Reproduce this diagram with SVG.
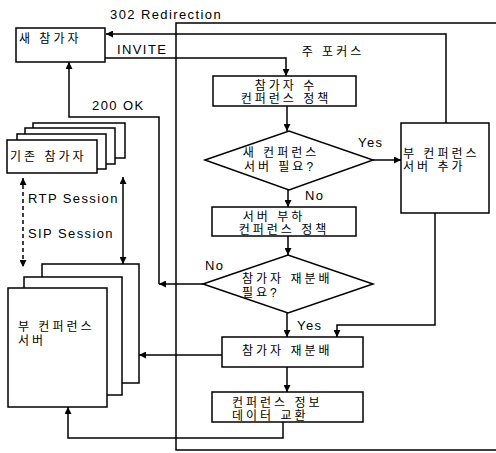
<svg xmlns="http://www.w3.org/2000/svg" width="496" height="453" viewBox="0 0 496 453">
<style>
.bx{fill:#fff;stroke:#000;stroke-width:1.5}
.ln{fill:none;stroke:#000;stroke-width:1.5}
.ko{font-family:"Liberation Sans","Noto Sans CJK KR",sans-serif;font-size:12px;letter-spacing:3px;fill:#000}
.la{font-family:"Liberation Sans",Arial,sans-serif;font-size:13px;letter-spacing:1.4px;fill:#000}
</style>
<defs>
<marker id="ah" viewBox="0 0 10 10" refX="10" refY="5" markerWidth="8" markerHeight="7" markerUnits="userSpaceOnUse" orient="auto-start-reverse">
<path d="M0,0 L10,5 L0,10 z" fill="#000"/>
</marker>
</defs>
<rect width="496" height="453" fill="#fff"/>

<g id="main-focus">
<path class="ln" d="M496,23 H176 V450 H496"/>
<text class="ko" x="333" y="56" text-anchor="middle">주 포커스</text>
</g>

<g id="new-participant">
<rect class="bx" x="16" y="28" width="89" height="34"/>
<text class="ko" x="19" y="43">새 참가자</text>
</g>

<g id="existing-participants">
<rect class="bx" x="33" y="123" width="92" height="35"/>
<rect class="bx" x="25" y="128" width="90" height="36"/>
<rect class="bx" x="17" y="134" width="89" height="35"/>
<rect class="bx" x="7" y="140" width="90" height="33"/>
<text class="ko" x="10" y="161">기존 참가자</text>
</g>

<g id="sub-server">
<rect class="bx" x="42" y="264" width="97" height="119"/>
<rect class="bx" x="24" y="277" width="98" height="118"/>
<rect class="bx" x="8" y="288" width="99" height="119"/>
<text class="ko"><tspan x="18" y="331">부 컨퍼런스</tspan><tspan x="18" y="345">서버</tspan></text>
</g>

<g id="participant-count">
<rect class="bx" x="213" y="76" width="143" height="30"/>
<text class="ko" text-anchor="middle"><tspan x="286" y="89.5">참가자 수</tspan><tspan x="286" y="103">컨퍼런스 정책</tspan></text>
</g>

<g id="need-server">
<polygon class="bx" points="205,160 289,131 373,160 289,190"/>
<text class="ko" text-anchor="middle"><tspan x="281" y="157">새 컨퍼런스</tspan><tspan x="280" y="170.5">서버 필요?</tspan></text>
</g>

<g id="add-server">
<rect class="bx" x="401" y="123" width="88" height="90"/>
<text class="ko"><tspan x="403" y="157.5">부 컨퍼런스</tspan><tspan x="403" y="171">서버 추가</tspan></text>
</g>

<g id="server-load">
<rect class="bx" x="212" y="207" width="144" height="29"/>
<text class="ko" text-anchor="middle"><tspan x="274" y="220.5">서버 부하</tspan><tspan x="284" y="234">컨퍼런스 정책</tspan></text>
</g>

<g id="need-redistribution">
<polygon class="bx" points="203,284 288,255 373,284 288,313"/>
<text class="ko"><tspan x="242" y="283">참가자 재분배</tspan><tspan x="242" y="297">필요?</tspan></text>
</g>

<g id="redistribute">
<rect class="bx" x="222" y="337" width="141" height="30"/>
<text class="ko" x="242" y="355">참가자 재분배</text>
</g>

<g id="exchange">
<rect class="bx" x="212" y="392" width="151" height="30"/>
<text class="ko"><tspan x="232" y="406.5">컨퍼런스 정보</tspan><tspan x="232" y="420">데이터 교환</tspan></text>
</g>

<g id="connectors">
<path class="ln" d="M446,123 V34 H106" marker-end="url(#ah)"/>
<path class="ln" d="M105,58 H286 V76" marker-end="url(#ah)"/>
<path class="ln" d="M287,106 V131" marker-end="url(#ah)"/>
<path class="ln" d="M373,160 H401" marker-end="url(#ah)"/>
<path class="ln" d="M288,190 V207" marker-end="url(#ah)"/>
<path class="ln" d="M288,236 V255" marker-end="url(#ah)"/>
<path class="ln" d="M287,313 V337" marker-end="url(#ah)"/>
<path class="ln" d="M435,213 V325 H337 V337" marker-end="url(#ah)"/>
<path class="ln" d="M203,284 H159" marker-end="url(#ah)"/>
<path class="ln" d="M159,284 V117 H69 V62" marker-end="url(#ah)"/>
<path class="ln" d="M222,355 H139" marker-end="url(#ah)"/>
<path class="ln" d="M287,367 V392" marker-end="url(#ah)"/>
<path class="ln" d="M283,422 V438 H68 V407" marker-end="url(#ah)"/>
<path class="ln" d="M23,178 V267" stroke-dasharray="4,3" marker-start="url(#ah)" marker-end="url(#ah)"/>
<path class="ln" d="M123,177 V264" marker-start="url(#ah)" marker-end="url(#ah)"/>
<text class="la" x="110" y="19">302 Redirection</text>
<text class="la" x="117" y="54">INVITE</text>
<text class="la" x="92" y="110">200 OK</text>
<text class="la" x="358" y="147">Yes</text>
<text class="la" x="305" y="200">No</text>
<text class="la" x="205" y="270">No</text>
<text class="la" x="297" y="330">Yes</text>
<text class="la" x="28" y="203">RTP Session</text>
<text class="la" x="28" y="238">SIP Session</text>
</g>
</svg>
